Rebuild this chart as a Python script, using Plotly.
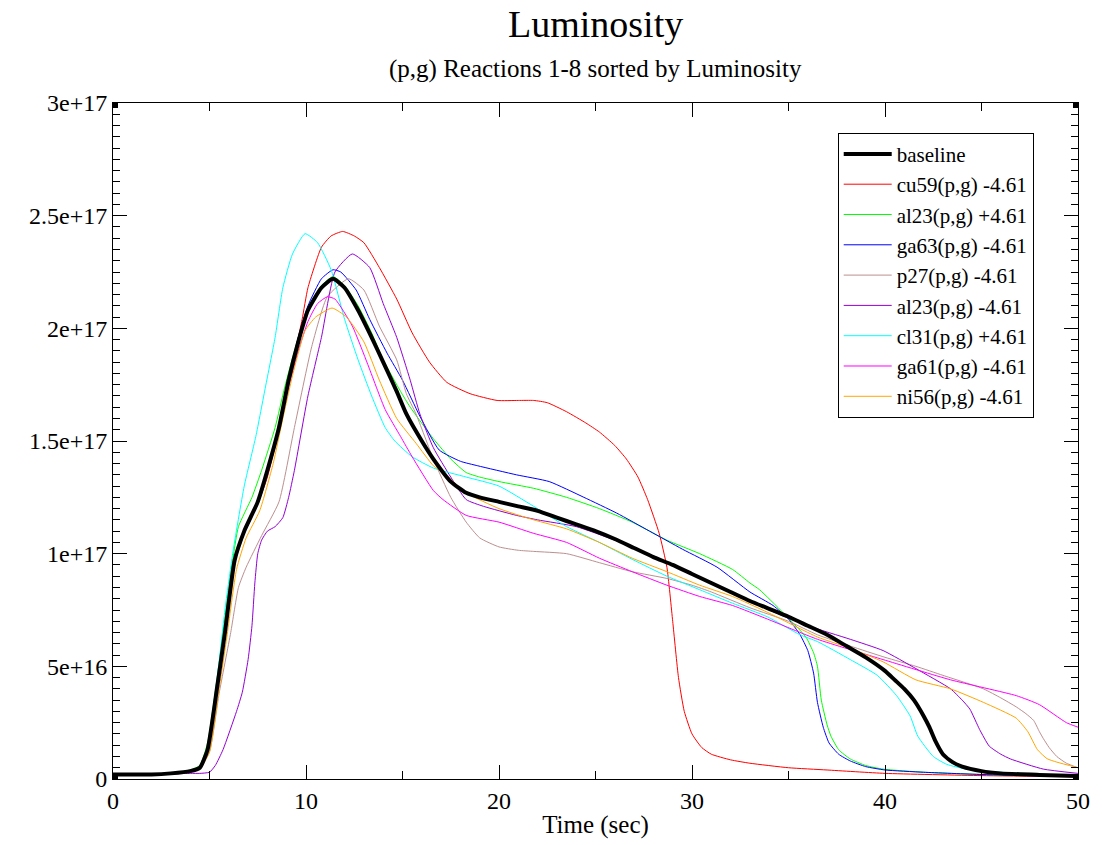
import plotly.graph_objects as go

SCALE = 1e17  # values below are in units of 1e17

baseline_t = [0, 2, 3, 4, 4.5, 4.9, 5.4, 5.8, 6.3, 6.8, 7.5, 8, 8.6, 9.1, 9.6, 10.1, 10.8, 11.4, 12, 12.7, 13.4, 14, 14.7, 15.2, 16, 16.6, 17.5, 18.3, 19, 20, 21, 22, 23, 24, 25, 26, 27, 28, 29, 30, 31, 32, 33, 34, 35, 36, 37, 38, 39, 40, 40.5, 41, 41.5, 42, 42.3, 42.6, 43, 43.5, 44, 45, 46, 48, 50]
baseline_v = [0.02, 0.02, 0.025, 0.035, 0.05, 0.13, 0.41, 0.65, 0.97, 1.10, 1.23, 1.37, 1.56, 1.77, 1.94, 2.08, 2.18, 2.22, 2.18, 2.08, 1.96, 1.85, 1.72, 1.62, 1.50, 1.42, 1.32, 1.27, 1.25, 1.23, 1.21, 1.19, 1.16, 1.13, 1.10, 1.065, 1.025, 0.985, 0.95, 0.91, 0.87, 0.83, 0.79, 0.755, 0.72, 0.68, 0.64, 0.59, 0.54, 0.48, 0.44, 0.40, 0.35, 0.28, 0.23, 0.17, 0.11, 0.075, 0.055, 0.035, 0.025, 0.018, 0.013]

cu59_t = [0, 2, 3, 4, 4.5, 4.9, 5.4, 5.8, 6.3, 6.8, 7.5, 8, 8.5, 9, 9.5, 9.8, 10.1, 10.8, 11.3, 11.9, 12.5, 13, 13.8, 14.7, 15.5, 16.4, 17.3, 18.5, 19.9, 21, 21.8, 22.5, 23.5, 24.5, 25.2, 26, 26.6, 27.2, 27.7, 28.3, 28.7, 29, 29.3, 29.6, 30, 30.5, 31, 32, 33, 35, 37, 40, 45, 50]
cu59_v = [0.02, 0.02, 0.025, 0.035, 0.05, 0.12, 0.40, 0.64, 0.96, 1.09, 1.22, 1.34, 1.52, 1.72, 1.92, 2.04, 2.18, 2.36, 2.41, 2.43, 2.41, 2.38, 2.27, 2.13, 1.98, 1.85, 1.76, 1.71, 1.68, 1.68, 1.68, 1.67, 1.63, 1.58, 1.54, 1.48, 1.42, 1.34, 1.24, 1.09, 0.94, 0.70, 0.45, 0.30, 0.20, 0.14, 0.11, 0.085, 0.07, 0.05, 0.04, 0.025, 0.015, 0.01]

al23p_t = [0, 2, 3, 4, 4.5, 4.9, 5.4, 5.7, 6.2, 6.5, 7.2, 7.7, 8.4, 8.9, 9.5, 10.1, 10.8, 11.4, 12, 12.7, 13.4, 14, 14.9, 15.4, 16.6, 17.5, 18.3, 19, 20, 21.8, 23.5, 25.2, 26.9, 28.7, 30.4, 32.1, 33, 33.5, 34.7, 35.9, 36.3, 36.5, 36.7, 37, 37.2, 37.6, 38.2, 39, 39.9, 42, 45, 50]
al23p_v = [0.02, 0.02, 0.025, 0.04, 0.06, 0.16, 0.45, 0.65, 0.97, 1.12, 1.25, 1.37, 1.56, 1.74, 1.93, 2.09, 2.19, 2.23, 2.19, 2.1, 1.98, 1.86, 1.72, 1.65, 1.51, 1.42, 1.36, 1.34, 1.32, 1.29, 1.25, 1.20, 1.14, 1.06, 1.0, 0.93, 0.87, 0.84, 0.74, 0.63, 0.56, 0.50, 0.35, 0.24, 0.19, 0.13, 0.089, 0.06, 0.044, 0.03, 0.02, 0.012]

ga63_t = [0, 2, 3, 4, 4.5, 4.9, 5.4, 5.8, 6.3, 6.8, 7.5, 8, 8.6, 9.1, 9.6, 10.1, 10.8, 11.4, 11.8, 12.6, 13.3, 14.2, 15, 15.9, 16.9, 18, 18.9, 20.9, 22.6, 24.4, 26.1, 27.8, 29.5, 31.3, 33, 34.2, 35, 35.6, 36, 36.3, 36.5, 36.8, 37.1, 37.6, 38.2, 39, 40, 42, 45, 50]
ga63_v = [0.02, 0.02, 0.025, 0.035, 0.05, 0.13, 0.41, 0.65, 0.97, 1.10, 1.23, 1.38, 1.57, 1.78, 1.96, 2.1, 2.22, 2.26, 2.25, 2.17, 2.04, 1.89, 1.77, 1.61, 1.46, 1.41, 1.39, 1.35, 1.32, 1.25, 1.18, 1.10, 1.02, 0.94, 0.83, 0.77, 0.71, 0.64, 0.57, 0.47, 0.34, 0.23, 0.16, 0.11, 0.08, 0.055, 0.04, 0.03, 0.02, 0.01]

p27_t = [0, 2, 3, 4, 4.5, 5, 5.5, 6.1, 6.5, 6.9, 7.7, 8.6, 9.4, 10.3, 11.1, 12.2, 13, 13.8, 14.7, 15.2, 15.7, 16.6, 17.5, 18.3, 19, 20, 21, 21.8, 23.5, 25.2, 26.9, 28.7, 30, 31, 33, 35, 36.5, 38.2, 40, 41.6, 43, 45.1, 46, 46.8, 47.3, 47.7, 48, 48.2, 48.5, 48.9, 49.4, 50]
p27_v = [0.02, 0.02, 0.025, 0.03, 0.05, 0.12, 0.38, 0.65, 0.85, 0.94, 1.08, 1.23, 1.56, 1.92, 2.14, 2.22, 2.17, 2.01, 1.86, 1.71, 1.62, 1.42, 1.25, 1.14, 1.07, 1.03, 1.015, 1.01, 1.0, 0.96, 0.92, 0.89, 0.86, 0.83, 0.76, 0.70, 0.64, 0.59, 0.54, 0.50, 0.46, 0.40, 0.36, 0.32, 0.29, 0.26, 0.21, 0.18, 0.14, 0.10, 0.07, 0.05]

al23m_t = [0, 2, 4, 4.5, 5, 5.3, 5.7, 6.4, 6.7, 7.0, 7.2, 7.35, 7.5, 7.7, 8.0, 8.4, 8.8, 9.1, 9.4, 10.1, 10.8, 11.5, 12.4, 13.3, 14, 14.7, 15.4, 15.9, 16.6, 17.5, 18.3, 19.2, 20.9, 22, 24, 26, 28, 30, 32, 34, 36, 38.2, 39.9, 41.6, 43.4, 44, 44.4, 44.9, 45.4, 46, 46.5, 48.2, 50]
al23m_v = [0.02, 0.02, 0.025, 0.025, 0.03, 0.06, 0.13, 0.30, 0.385, 0.53, 0.68, 0.87, 1.0, 1.06, 1.1, 1.12, 1.16, 1.25, 1.37, 1.70, 1.96, 2.25, 2.33, 2.27, 2.11, 1.96, 1.77, 1.62, 1.47, 1.34, 1.24, 1.21, 1.17, 1.15, 1.12, 1.06, 0.99, 0.91, 0.83, 0.75, 0.68, 0.62, 0.57, 0.49, 0.40, 0.35, 0.31, 0.22, 0.146, 0.11, 0.089, 0.044, 0.025]

cl31_t = [0, 2, 3, 4, 4.5, 4.9, 5.4, 5.8, 6.2, 6.8, 7.4, 7.9, 8.4, 8.8, 9.3, 9.95, 10.6, 11.3, 12.0, 12.7, 13.4, 14.1, 14.6, 15.5, 16.6, 18.3, 20, 21.8, 23.5, 25.2, 26.9, 28.7, 30.4, 32.1, 33.9, 35.6, 36.5, 38.2, 39.6, 40.6, 41.3, 41.7, 42.5, 43.2, 44.2, 46, 50]
cl31_v = [0.02, 0.02, 0.025, 0.035, 0.05, 0.15, 0.45, 0.75, 1.0, 1.3, 1.52, 1.74, 1.96, 2.18, 2.33, 2.42, 2.38, 2.26, 2.04, 1.86, 1.70, 1.56, 1.50, 1.43, 1.38, 1.34, 1.30, 1.21, 1.12, 1.05, 0.975, 0.90, 0.84, 0.78, 0.72, 0.64, 0.61, 0.53, 0.46, 0.37, 0.28, 0.19, 0.10, 0.065, 0.044, 0.03, 0.015]

ga61_t = [0, 2, 3, 4, 4.5, 4.9, 5.4, 5.8, 6.3, 6.8, 7.5, 8, 8.6, 9.1, 9.6, 10.1, 10.6, 11.1, 11.5, 12.4, 13.2, 14.1, 14.9, 15.5, 16.6, 17.1, 18.3, 20, 21.8, 23.5, 25.2, 26.9, 28.7, 30.4, 32.1, 33.9, 36.5, 39.9, 43.4, 46.8, 48, 49.4, 50]
ga61_v = [0.02, 0.02, 0.025, 0.035, 0.05, 0.13, 0.40, 0.64, 0.96, 1.09, 1.22, 1.35, 1.54, 1.74, 1.9, 2.03, 2.11, 2.14, 2.13, 2.01, 1.84, 1.64, 1.52, 1.43, 1.28, 1.24, 1.17, 1.14, 1.09, 1.05, 0.98, 0.92, 0.86, 0.81, 0.77, 0.71, 0.62, 0.53, 0.44, 0.37, 0.33, 0.25, 0.23]

ni56_t = [0, 2, 3, 4, 4.5, 5, 5.5, 5.9, 6.4, 6.9, 7.6, 8.3, 8.8, 9.3, 9.6, 9.95, 10.5, 11.35, 12.1, 13, 13.8, 14.7, 15.7, 16.6, 17.1, 18.3, 20, 21.8, 23.5, 25.2, 26.9, 28.7, 30.4, 32.1, 33.9, 36.5, 38.2, 39.9, 41.6, 43.4, 45.1, 46.8, 47.4, 47.9, 48.4, 48.9, 50]
ni56_v = [0.02, 0.02, 0.025, 0.03, 0.045, 0.12, 0.40, 0.63, 0.93, 1.07, 1.19, 1.40, 1.6, 1.79, 1.89, 1.99, 2.05, 2.09, 2.05, 1.94, 1.77, 1.6, 1.49, 1.39, 1.36, 1.27, 1.20, 1.15, 1.11, 1.05, 0.98, 0.92, 0.86, 0.81, 0.74, 0.63, 0.58, 0.52, 0.44, 0.40, 0.34, 0.27, 0.21, 0.13, 0.09, 0.075, 0.05]

series_names = ["baseline", "cu59(p,g) -4.61", "al23(p,g) +4.61", "ga63(p,g) -4.61",
                "p27(p,g) -4.61", "al23(p,g) -4.61", "cl31(p,g) +4.61", "ga61(p,g) -4.61",
                "ni56(p,g) -4.61"]
series_data = [(baseline_t, baseline_v), (cu59_t, cu59_v), (al23p_t, al23p_v), (ga63_t, ga63_v),
               (p27_t, p27_v), (al23m_t, al23m_v), (cl31_t, cl31_v), (ga61_t, ga61_v),
               (ni56_t, ni56_v)]
series_colors = ["#000000", "#ff0000", "#00ff00", "#0000ff", "#bc8f8f", "#9400d3",
                 "#00ffff", "#ff00ff", "#ffa500"]
series_widths = [4, 1, 1, 1, 1, 1, 1, 1, 1]

x_tickvals = [0, 10, 20, 30, 40, 50]
x_ticktext = ["0", "10", "20", "30", "40", "50"]
y_tickvals = [0, 5e16, 1e17, 1.5e17, 2e17, 2.5e17, 3e17]
y_ticktext = ["0", "5e+16", "1e+17", "1.5e+17", "2e+17", "2.5e+17", "3e+17"]

FONT = "Liberation Serif"

fig = go.Figure()
# colored series first, baseline drawn on top
order = [1, 2, 3, 4, 5, 6, 7, 8, 0]
for i in order:
    t, v = series_data[i]
    fig.add_trace(go.Scatter(
        x=t, y=[val * SCALE for val in v], mode="lines", name=series_names[i],
        line=dict(color=series_colors[i], width=series_widths[i], shape="spline", smoothing=0.5),
        legendgroup=f"g{i}", legendrank=i + 1,
    ))

fig.update_layout(
    width=1102, height=845,
    margin=dict(l=113, r=22, t=103, b=65),
    paper_bgcolor="white", plot_bgcolor="white",
    font=dict(family=FONT, color="black", size=20),
    showlegend=True,
    legend=dict(
        x=0.751, y=0.956, xanchor="left", yanchor="top",
        bgcolor="white", bordercolor="black", borderwidth=1,
        font=dict(family=FONT, size=21, color="black"),
        tracegroupgap=0, traceorder="grouped", itemwidth=48,
    ),
    annotations=[
        dict(text="Luminosity", x=0.5, y=1.117, xref="paper", yref="paper",
             xanchor="center", yanchor="middle", showarrow=False,
             font=dict(family=FONT, size=38, color="black")),
        dict(text="(p,g) Reactions 1-8 sorted by Luminosity", x=0.5, y=1.05,
             xref="paper", yref="paper", xanchor="center", yanchor="middle",
             showarrow=False, font=dict(family=FONT, size=25, color="black")),
    ],
)

fig.update_xaxes(
    range=[0, 50], tickvals=x_tickvals, ticktext=x_ticktext,
    ticks="inside", ticklen=14, tickwidth=1, tickcolor="black",
    minor=dict(dtick=5, tick0=0, ticks="inside", ticklen=8, tickwidth=1, tickcolor="black", showgrid=False),
    showline=True, linecolor="black", linewidth=1, mirror="ticks",
    showgrid=False, zeroline=False,
    tickfont=dict(family=FONT, size=24),
    title=dict(text="Time (sec)", font=dict(family=FONT, size=25), standoff=2),
)
fig.update_yaxes(
    range=[0, 3e17], tickvals=y_tickvals, ticktext=y_ticktext,
    ticks="inside", ticklen=14, tickwidth=1, tickcolor="black",
    minor=dict(dtick=5e15, tick0=0, ticks="inside", ticklen=7, tickwidth=1, tickcolor="black", showgrid=False),
    showline=True, linecolor="black", linewidth=1, mirror="ticks",
    showgrid=False, zeroline=False,
    tickfont=dict(family=FONT, size=24),
)

# corner markers
for cx, cy in [(0, 0), (50, 0), (0, 3e17), (50, 3e17)]:
    fig.add_shape(type="rect", xref="x", yref="y", xsizemode="pixel", ysizemode="pixel",
                  xanchor=cx, yanchor=cy, x0=-5, x1=5, y0=-5, y1=5,
                  fillcolor="black", line=dict(color="black", width=0), layer="above")

fig.write_html("out.html")
